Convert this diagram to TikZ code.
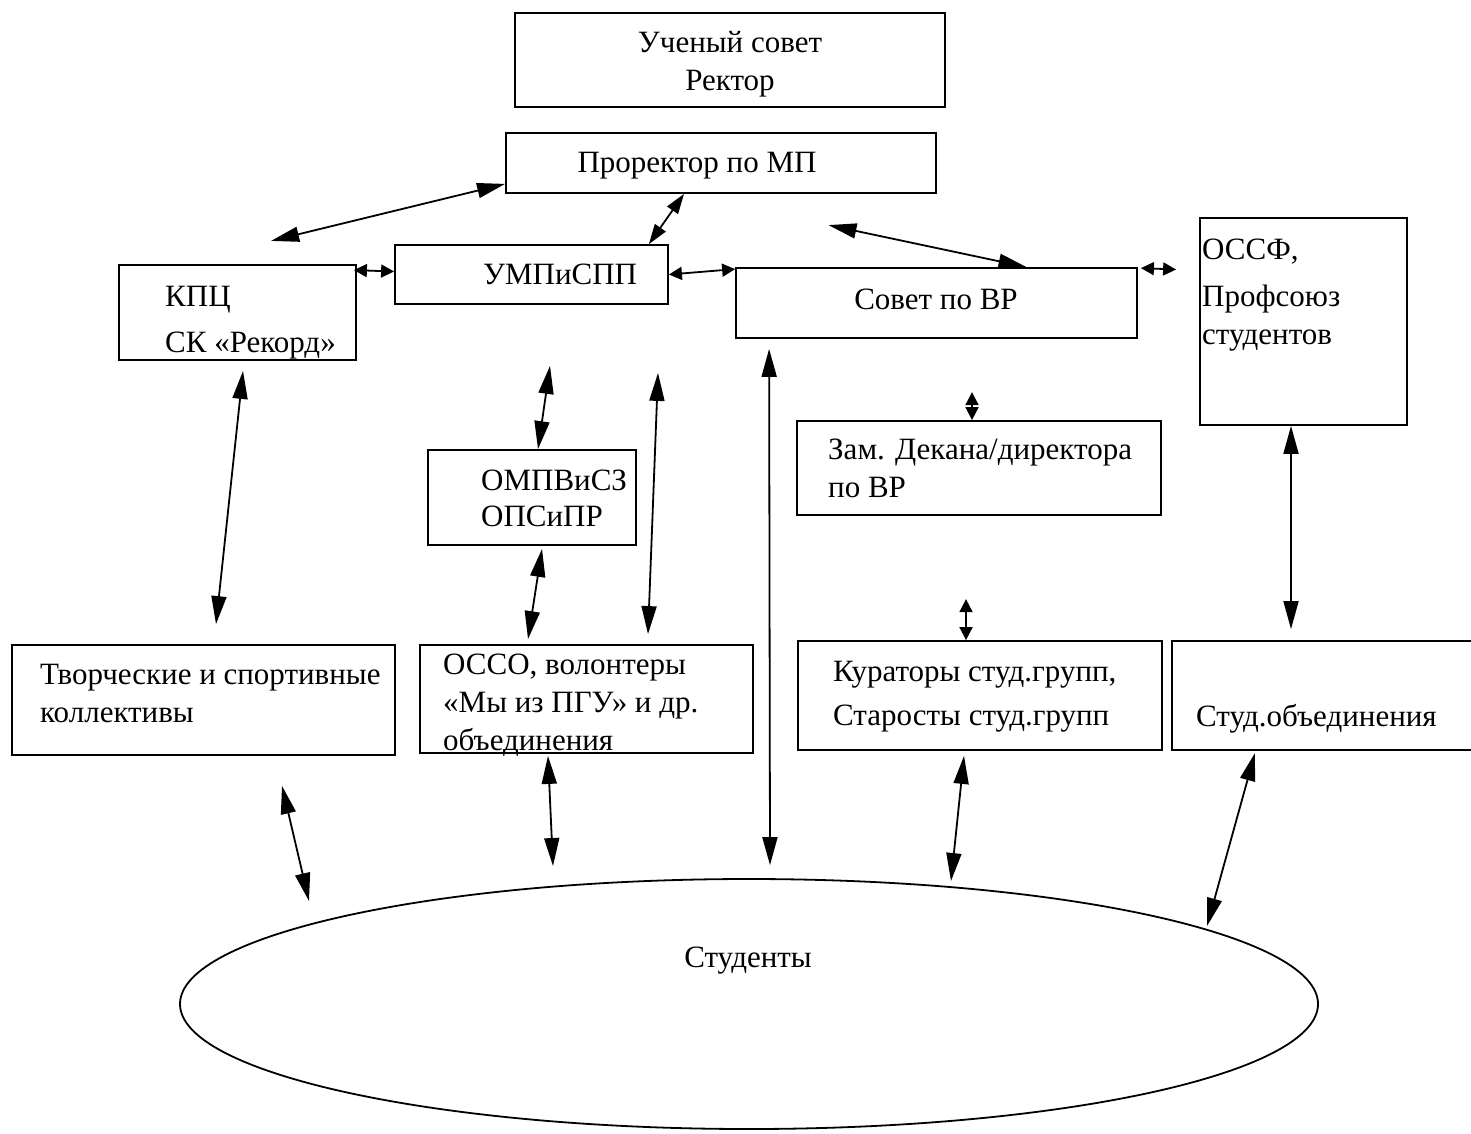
\documentclass[tikz,border=0pt]{standalone}
\usepackage{fontspec}
\setmainfont{Liberation Serif}
\usetikzlibrary{arrows.meta,calc,shapes.geometric}

\begin{document}
\begin{tikzpicture}[x=1pt,y=1pt,yscale=-1,
    box/.style={draw,line width=1.8pt,inner sep=0pt},
    txt/.style={inner sep=0pt,font=\fontsize{31}{38}\selectfont},
    dbl/.style={{Triangle[length=28pt,width=15pt]}-{Triangle[length=28pt,width=15pt]},line width=1.8pt},
    dblm/.style={{Triangle[length=20pt,width=13pt]}-{Triangle[length=20pt,width=13pt]},line width=1.8pt},
    dbls/.style={{Triangle[length=13pt,width=13pt]}-{Triangle[length=13pt,width=13pt]},line width=1.8pt}]
\useasboundingbox (0,0) rectangle (1471,1133);

% Boxes
\node[box,minimum width=430,minimum height=94] (uc) at (730,60) {};
\node[box,minimum width=430,minimum height=60] (pr) at (721,163) {};
\node[box,minimum width=237,minimum height=95] (kpc) at (237.5,312.5) {};
\node[box,minimum width=273,minimum height=59] (ump) at (531.5,274.5) {};
\node[box,minimum width=401,minimum height=70] (svr) at (936.5,303) {};
\node[box,minimum width=207,minimum height=207] (ossf) at (1303.5,321.5) {};
\node[box,minimum width=208,minimum height=95] (omp) at (532,497.5) {};
\node[box,minimum width=364,minimum height=94] (zam) at (979,468) {};
\node[box,minimum width=383,minimum height=110] (tvo) at (203.5,700) {};
\node[box,minimum width=333,minimum height=108] (osso) at (586.5,699) {};
\node[box,minimum width=364,minimum height=109] (kur) at (980,695.5) {};
\node[box,minimum width=318,minimum height=109] (sto) at (1331,695.5) {};
%Shape: Ellipse
\node[box,ellipse,minimum width=1138,minimum height=250] (stud) at (749,1004) {};

% Text Nodes
\node[txt,align=center] (ucT) at (730,64) {Ученый совет\\Ректор};
\node[txt] (prT) at (697,166) {Проректор по МП};
\node[txt,anchor=west,align=left] (kpcT) at (165,322.5) {КПЦ\\[8pt]СК «Рекорд»};
\node[txt,anchor=west] (umpT) at (483,274) {УМПиСПП};
\node[txt] (svrT) at (936,299) {Совет по ВР};
\node[txt,anchor=west,align=left] (ossfT) at (1202,295) {ОССФ,\\[9pt]Профсоюз\\студентов};
\node[txt,anchor=west,align=left] (ompT) at (481,498) {ОМПВиСЗ\\[-2pt]ОПСиПР};
\node[txt,anchor=west,align=left] (zamT) at (828,468.5) {Зам. Декана/директора\\по ВР};
\node[txt,anchor=west,align=left] (tvoT) at (40,693.5) {Творческие и спортивные\\коллективы};
\node[txt,anchor=west,align=left] (ossoT) at (443,705) {ОССО, волонтеры\\«Мы из ПГУ» и др.\\объединения};
\node[txt,anchor=west,align=left] (kurT) at (833,697) {Кураторы студ.групп,\\[6pt]Старосты студ.групп};
\node[txt,anchor=west] (stoT) at (1196,719) {Студ.объединения};
\node[txt] (studT) at (748,961) {Студенты};

% Arrows
\draw[dbl] ($(pr.south west)+(-234,47)$) -- ($(pr.south west)+(0,-10)$);
\draw[dblm] ($(ump.north east)+(-20,0)$) -- ($(pr.south)+(-37,0)$);
\draw[dbl] ($(svr.north)+(-108,-42)$) -- ($(svr.north)+(90,0)$);
\draw[dbls] ($(kpc.north east)+(-3,6)$) -- ($(ump.west)+(0,-3)$);
\draw[dbls] (ump.east) -- ($(svr.north west)+(0,2)$);
\draw[dbls] ($(svr.north east)+(3,1)$) -- ($(ossf.west)+(-23,-52)$);
\draw[dbl] ($(kpc.south)+(5.5,10)$) -- ($(tvo.north)+(12.5,-20)$);
\draw[dbl] ($(ump.south)+(18.5,61)$) -- ($(omp.north)+(6,0)$);
\draw[dbl] ($(ump.south)+(126.5,68)$) -- ($(osso.north)+(61.5,-10)$);
\draw[dbl] ($(svr.south west)+(34,10)$) -- ($(stud.north)+(21,-13)$);
\draw[dbls] ($(zam.north)+(-7,-28)$) -- ($(zam.north)+(-7,0)$);
\draw[dbl] ($(ossf.south)+(-12.5,0)$) -- ($(sto.north)+(-40,-11)$);
\draw[dbl] ($(omp.south)+(10,3)$) -- ($(osso.north)+(-58.5,-5)$);
\draw[dbls] ($(kur.north)+(-14,-41)$) -- ($(kur.north)+(-14,0)$);
\draw[dbl] ($(tvo.south)+(78.5,30)$) -- ($(stud.center)+(-440,-103)$);
\draw[dbl] ($(osso.south)+(-38.5,2)$) -- ($(stud.center)+(-196,-138)$);
\draw[dbl] ($(kur.south)+(-16,5)$) -- ($(stud.center)+(202,-123)$);
\draw[dbl] ($(sto.south)+(-76,2)$) -- ($(stud.center)+(458,-78)$);
\end{tikzpicture}
\end{document}
